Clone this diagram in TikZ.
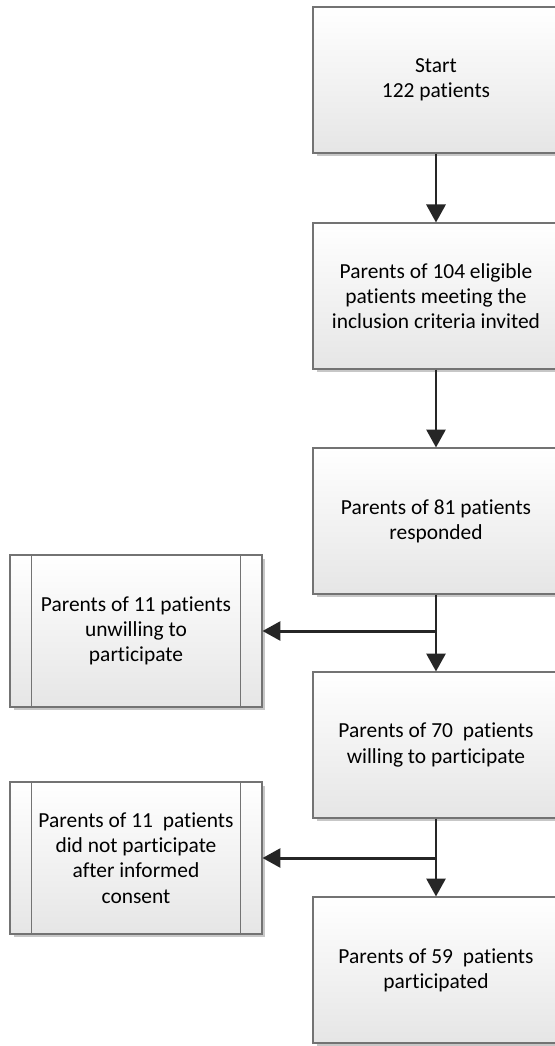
\documentclass[tikz,border=0pt]{standalone}
\usepackage{fontspec}
\setmainfont{Carlito}[Ligatures={NoCommon}]
\usetikzlibrary{arrows.meta,shadows}

\begin{document}
\begin{tikzpicture}[
  x=0.02cm, y=-0.02cm,
  font=\fontsize{12.2}{14.4}\selectfont,
  box/.style={draw=black!55, line width=0.6pt, top color=white, bottom color=black!10,
    drop shadow={shadow xshift=0.07cm, shadow yshift=-0.07cm, fill=black!22, opacity=1},
    align=center, inner sep=2pt},
  process/.style={box, minimum width=4.92cm, minimum height=2.92cm},
  subproc/.style={box, minimum width=5.04cm, minimum height=3.04cm},
  arr/.style={draw=black!85, line width=1.7pt, -{Triangle[length=0.36cm,width=0.38cm]}}
]
\useasboundingbox (0,0) rectangle (555,1046);
\clip (0,0) rectangle (555,1046);

% main column
\node[process] (start) at (436,80)  {Start\\122 patients};
\node[process] (invit) at (436,296) {Parents of 104 eligible\\patients meeting the\\inclusion criteria invited};
\node[process] (resp)  at (436,521) {Parents of 81 patients\\responded};
\node[process] (will)  at (436,745) {Parents of 70~ patients\\willing to participate};
\node[process] (part)  at (436,970) {Parents of 59~ patients\\participated};

% side boxes
\node[subproc] (unw)  at (136,631) {Parents of 11 patients\\unwilling to\\participate};
\node[subproc] (noc)  at (136,858) {Parents of 11~ patients\\did not participate\\after informed\\consent};
\foreach \n in {unw,noc} {
  \draw[black!55, line width=0.6pt] ([xshift=0.44cm]\n.north west) -- ([xshift=0.44cm]\n.south west);
  \draw[black!55, line width=0.6pt] ([xshift=-0.44cm]\n.north east) -- ([xshift=-0.44cm]\n.south east);
}

% connectors
\draw[arr] (start) -- (invit);
\draw[arr] (invit) -- (resp);
\draw[arr] (resp) -- (will);
\draw[arr] (will) -- (part);
\draw[arr] (resp.south |- unw.east) -- (unw.east);
\draw[arr] (will.south |- noc.east) -- (noc.east);
\end{tikzpicture}
\end{document}
